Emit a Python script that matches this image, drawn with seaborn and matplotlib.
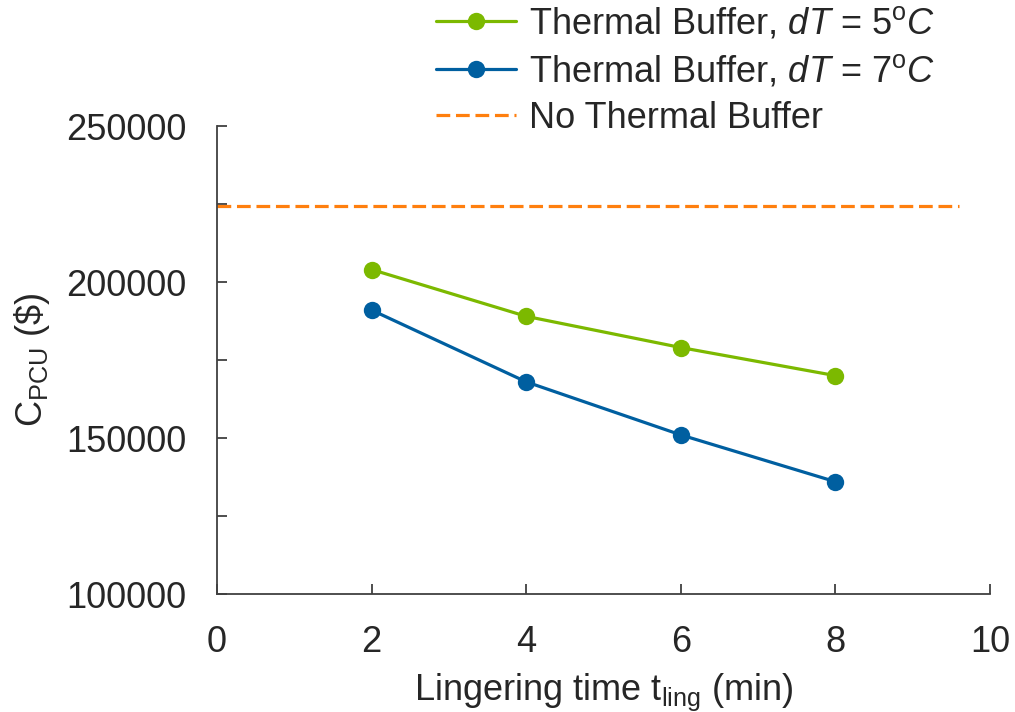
import matplotlib
matplotlib.use("Agg")
import matplotlib.pyplot as plt
from matplotlib.ticker import MultipleLocator
import numpy as np
import pandas as pd
import seaborn as sns

# Lingering time (min) and PCU cost ($) for each configuration
t_ling = [2, 4, 6, 8]
cost_dt5 = [204000, 189000, 179000, 170000]
cost_dt7 = [191000, 168000, 151000, 136000]
no_buffer_x = [0, 9.6]
no_buffer_cost = [224400, 224400]

x_ticks = [0, 2, 4, 6, 8, 10]
y_ticks = [100000, 150000, 200000, 250000]

green = "#7cb900"
blue = "#005fa0"
orange = "#ff7f0e"
ink = "#262626"

sns.set_theme(style="white")
plt.rcParams["font.family"] = ["Liberation Sans", "DejaVu Sans"]
plt.rcParams["mathtext.fontset"] = "custom"
plt.rcParams["mathtext.rm"] = "Liberation Sans"
plt.rcParams["mathtext.it"] = "Liberation Sans:italic"

fig = plt.figure(figsize=(10.15, 7.12), dpi=100)
ax = fig.add_axes([0.2138, 0.1657, 0.9754 - 0.2138, 0.823 - 0.1657])

df5 = pd.DataFrame({"t": t_ling, "c": cost_dt5})
df7 = pd.DataFrame({"t": t_ling, "c": cost_dt7})
dfn = pd.DataFrame({"t": no_buffer_x, "c": no_buffer_cost})

sns.lineplot(data=df5, x="t", y="c", ax=ax, color=green, lw=2.3, marker="o",
             markersize=12.5, markeredgewidth=0,
             label=r"Thermal Buffer, $\mathit{dT}$ = $\mathit{5}^{\mathrm{o}}\mathit{C}$")
sns.lineplot(data=df7, x="t", y="c", ax=ax, color=blue, lw=2.3, marker="o",
             markersize=12.5, markeredgewidth=0,
             label=r"Thermal Buffer, $\mathit{dT}$ = $\mathit{7}^{\mathrm{o}}\mathit{C}$")
sns.lineplot(data=dfn, x="t", y="c", ax=ax, color=orange, lw=2.3,
             dashes=False, label="No Thermal Buffer")
ax.lines[-1].set_dashes((4.3, 1.8))

ax.set_xlim(0, 10)
ax.set_ylim(100000, 250000)
ax.set_xticks(x_ticks)
ax.set_yticks(y_ticks)
ax.yaxis.set_minor_locator(MultipleLocator(25000))

for side in ["top", "right"]:
    ax.spines[side].set_visible(False)
for side in ["left", "bottom"]:
    ax.spines[side].set_color("#404040")
    ax.spines[side].set_linewidth(1.3)

ax.tick_params(axis="both", which="both", direction="in", length=7.5,
               width=1.3, color="#404040", labelsize=26, labelcolor=ink)
ax.tick_params(axis="x", pad=22)
ax.tick_params(axis="y", pad=22)
ax.tick_params(axis="x", which="both", bottom=True)
ax.tick_params(axis="y", which="both", left=True)

ax.set_xlabel(r"Lingering time t$_{\mathrm{ling}}$ (min)", fontsize=26, color=ink, labelpad=9)
ax.set_ylabel(r"C$_{\mathrm{PCU}}$ (\$)", fontsize=26, color=ink, labelpad=10)

leg = ax.legend(loc="upper left", bbox_to_anchor=(422 / 1015, 1.012),
                bbox_transform=fig.transFigure, frameon=False, fontsize=26,
                handlelength=2.2, handletextpad=0.35, labelspacing=0.32,
                borderaxespad=0)
for t in leg.get_texts():
    t.set_color(ink)

fig.savefig("out.png", dpi=100)
